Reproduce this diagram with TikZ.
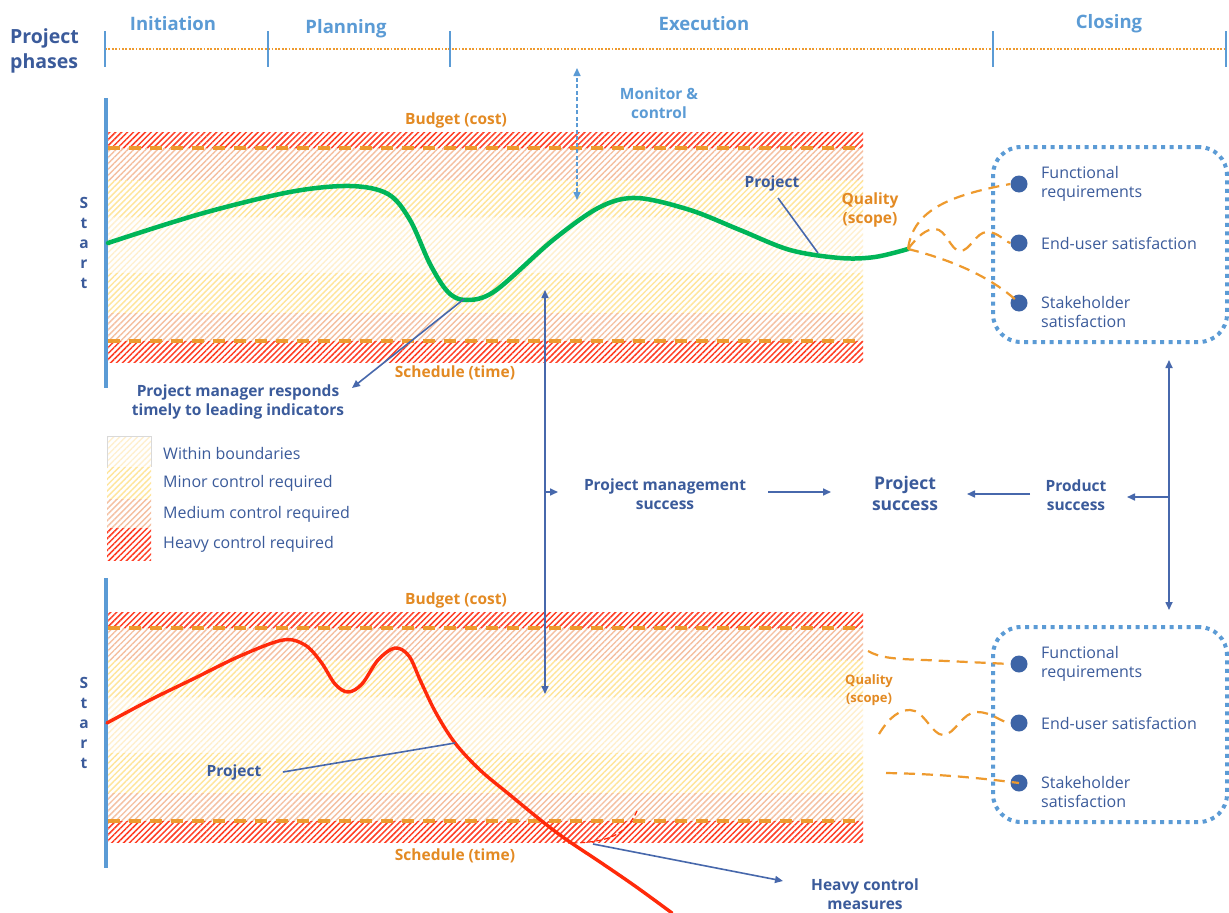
\documentclass[tikz,border=0pt]{standalone}
\usepackage{fontspec}
\setmainfont{Open Sans}
\usetikzlibrary{arrows.meta,patterns.meta}
\definecolor{navy}{HTML}{3B5B9B}
\definecolor{lblue}{HTML}{5B9BD5}
\definecolor{abl}{HTML}{4768AC}
\definecolor{orangeT}{HTML}{E38A23}
\definecolor{orangeL}{HTML}{EE9A2E}
\definecolor{hred}{HTML}{FF3D24}
\definecolor{hmed}{HTML}{F5BFA0}
\definecolor{hmin}{HTML}{FFE59A}
\definecolor{hwin}{HTML}{FFF0CF}
\definecolor{pgreen}{HTML}{00B558}
\definecolor{pred}{HTML}{FF2A0A}
\definecolor{dotblue}{HTML}{3D64A6}
\tikzset{
  txt/.style={text=navy, font=\fontsize{16}{19.5}\selectfont, align=left, inner sep=0pt},
  btxt/.style={text=navy, font=\bfseries\fontsize{15.5}{19}\selectfont, align=center, inner sep=0pt},
  otxt/.style={text=orangeT, font=\bfseries\fontsize{15.5}{19}\selectfont, align=center, inner sep=0pt},
  ltxt/.style={text=lblue, font=\bfseries\fontsize{15.5}{19}\selectfont, align=center, inner sep=0pt},
  phase/.style={text=lblue, font=\bfseries\fontsize{18.5}{22}\selectfont, inner sep=0pt},
  tick/.style={draw=lblue, line width=2pt},
  conn/.style={draw=abl, line width=1.6pt},
  tip/.style={-{Triangle[length=8pt,width=7pt]}},
  both/.style={{Triangle[length=8pt,width=7pt]}-{Triangle[length=8pt,width=7pt]}},
  zheavy/.style={pattern={Lines[angle=45,distance=4.2pt,line width=1.5pt]}, pattern color=hred},
  zmed/.style={pattern={Lines[angle=45,distance=4.2pt,line width=1.4pt]}, pattern color=hmed},
  zmin/.style={pattern={Lines[angle=45,distance=4.2pt,line width=1.4pt]}, pattern color=hmin},
  zwin/.style={pattern={Lines[angle=45,distance=4.2pt,line width=1.4pt]}, pattern color=hwin},
  limit/.style={draw=orangeL, line width=3.5pt, dash pattern=on 12pt off 9pt},
  qdash/.style={draw=orangeL, line width=2.2pt, dash pattern=on 11pt off 7pt},
  reqbox/.style={draw=lblue, line width=4pt, dash pattern=on 4pt off 4.5pt, rounded corners=28pt},
  reqdot/.style={circle, fill=dotblue, minimum size=17pt, inner sep=0pt},
  axis/.style={draw=lblue, line width=4pt},
}
\newcommand\controlband{%
  \path[zheavy] (108,132) rectangle (863,148);
  \path[zmed]   (108,148) rectangle (863,180);
  \path[zmin]   (108,180) rectangle (863,217);
  \path[zwin]   (108,217) rectangle (863,273);
  \path[zmin]   (108,273) rectangle (863,313);
  \path[zmed]   (108,313) rectangle (863,341);
  \path[zheavy] (108,341) rectangle (863,362);
  \draw[limit] (108,148) -- (863,148);
  \draw[limit] (108,341) -- (863,341);
  \draw[axis] (106,98) -- (106,388);
}
\begin{document}
\begin{tikzpicture}[x=1pt,y=-1pt]
\useasboundingbox[fill=white] (0,0) rectangle (1229,913);

% ---- phase header ----
\node[text=navy, font=\bfseries\fontsize{19.5}{25}\selectfont, align=left, inner sep=0pt, anchor=west] (phases) at (10,51) {Project\\phases};
\draw[orangeL, line width=1.8pt, dash pattern=on 1.8pt off 1.6pt] (105,49) -- (1226,49);
\foreach \x in {105,268,450,993,1226} \draw[tick] (\x,31) -- (\x,67);
\node[phase] (phI) at (173,24) {Initiation};
\node[phase] (phP) at (346,29) {Planning};
\node[phase] (phE) at (704,24) {Execution};
\node[phase] (phC) at (1109,24) {Closing};

% ---- both control bands ----
\controlband
\begin{scope}[yshift=-480pt]
\controlband
\end{scope}

% ---- upper band: controlled project ----
\node[btxt, font=\bfseries\fontsize{15.5}{20}\selectfont] (startA) at (84,243) {S\\t\\a\\r\\t};
\node[otxt] (budA) at (456,120) {Budget (cost)};
\node[otxt] (schA) at (455,373) {Schedule (time)};
\draw[pgreen, line width=4.5pt, line cap=round] plot[smooth, tension=0.55] coordinates {
  (108,243) (200,214) (290,192) (350,186) (388,194) (410,220) (430,264) (448,292) (466,300)
  (495,291) (553,240) (600,207) (637,198) (690,210) (740,230) (790,250) (840,258) (875,257) (908,249)};
\coordinate (gEnd) at (908,249);
\coordinate (gMin) at (464,299);
\coordinate (gTail) at (818,253);
\node[btxt] (projA) at (772,183) {Project};
\coordinate (projAfoot) at (778,198);
\draw[conn] (projAfoot) -- (gTail);
\node[btxt] (pmResp) at (238,402) {Project manager responds\\timely to leading indicators};
\coordinate (pmTip) at (352,388);
\draw[conn, tip] (gMin) -- (pmTip);

% monitor & control
\coordinate (monTop) at (577,68);
\coordinate (monBot) at (577,200);
\draw[draw=lblue, line width=1.6pt, dash pattern=on 4pt off 2.5pt, both] (monBot) -- (monTop);
\node[ltxt] (mon) at (659,103) {Monitor \&\\control};

% quality links, upper
\node[otxt] (qualA) at (870,210) {Quality\\(scope)};
\node[reqbox, minimum width=234pt, minimum height=195pt] (boxA) at (1110,244.5) {};
\node[reqdot] (frA) at (1019,184) {};
\node[reqdot] (euA) at (1019,243) {};
\node[reqdot] (shA) at (1019,303) {};
\node[txt, anchor=west] (frAt) at (1041,184) {Functional\\requirements};
\node[txt, anchor=west] (euAt) at (1041,243) {End-user satisfaction};
\node[txt, anchor=west] (shAt) at (1041,312) {Stakeholder\\satisfaction};
\draw[qdash] (gEnd) .. controls (913,212) and (945,196) .. (frA.west);
\draw[qdash] (gEnd) .. controls (918,236) and (926,229) .. (935,229)
  .. controls (946,229) and (951,251) .. (960,251)
  .. controls (970,251) and (976,232) .. (987,232)
  .. controls (998,232) and (1004,241) .. (euA.west);
\draw[qdash] (gEnd) .. controls (945,258) and (990,275) .. (shA.center);

% ---- legend ----
\path[zwin]   (107,436) rectangle (151,467);
\path[zmin]   (107,467) rectangle (151,499);
\path[zmed]   (107,499) rectangle (151,528);
\path[zheavy] (107,528) rectangle (151,560);
\draw[black!15, line width=0.6pt] (107,467) -- (107,436) -- (151,436) -- (151,467);
\node[txt, anchor=west] (lg1) at (163,453) {Within boundaries};
\node[txt, anchor=west] (lg2) at (163,483) {Minor control required};
\node[txt, anchor=west] (lg3) at (163,514) {Medium control required};
\node[txt, anchor=west] (lg4) at (163,544) {Heavy control required};

% ---- success chain ----
\coordinate (vTop) at (545,290);
\coordinate (vBot) at (545,694);
\coordinate (vMid) at (545,492);
\draw[conn, both] (vBot) -- (vTop);
\node[btxt] (pms) at (665,494) {Project management\\success};
\node[btxt, font=\bfseries\fontsize{17.5}{21}\selectfont] (ps) at (905,493) {Project\\success};
\node[btxt] (prs) at (1076,495) {Product\\success};
\coordinate (pmsIn) at (558,492);
\draw[conn, tip] (vMid) -- (pmsIn);
\coordinate (a1s) at (768,492);
\coordinate (a1e) at (831,492);
\draw[conn, tip] (a1s) -- (a1e);
\coordinate (a2s) at (1030,494);
\coordinate (a2e) at (967,494);
\draw[conn, tip] (a2s) -- (a2e);
\coordinate (rTop) at (1169,360);
\coordinate (rBot) at (1169,610);
\coordinate (rMid) at (1169,497);
\coordinate (prsIn) at (1127,497);
\draw[conn, both] (rBot) -- (rTop);
\draw[conn, tip] (rMid) -- (prsIn);

% ---- lower band: uncontrolled project ----
\node[btxt, font=\bfseries\fontsize{15.5}{20}\selectfont] (startB) at (84,723) {S\\t\\a\\r\\t};
\node[otxt] (budB) at (456,600) {Budget (cost)};
\node[otxt] (schB) at (455,856) {Schedule (time)};
\draw[pred, line width=3.4pt, line cap=round] plot[smooth, tension=0.55] coordinates {
  (107,723) (150,700) (193,679) (240,656) (283,640) (305,645) (321,662) (335,684) (348,692)
  (362,684) (378,660) (395,648) (409,656) (421,682) (436,713) (455,743) (480,770) (510,795)
  (543,822) (567,840) (600,862) (635,886) (672,913)};
\coordinate (rTail) at (455,743);
\node[btxt] (projB) at (234,772) {Project};
\coordinate (projBfoot) at (283,772);
\draw[conn] (projBfoot) -- (rTail);
\coordinate (hcStart) at (637,811);
\coordinate (hcEnd) at (568,843);
\draw[pred, line width=1.2pt, dash pattern=on 5pt off 3pt] (hcStart) .. controls (626,834) and (610,843) .. (hcEnd);
\coordinate (hcFrom) at (593,844);
\coordinate (hcTip) at (783,881);
\draw[conn, tip] (hcFrom) -- (hcTip);
\node[btxt] (hcm) at (865,894) {Heavy control\\measures};

% quality links, lower
\node[otxt, font=\bfseries\fontsize{13}{18}\selectfont] (qualB) at (869,690) {Quality\\(scope)};
\node[reqbox, minimum width=234pt, minimum height=195pt] (boxB) at (1110,724.5) {};
\node[reqdot] (frB) at (1019,664) {};
\node[reqdot] (euB) at (1019,723) {};
\node[reqdot] (shB) at (1019,783) {};
\node[txt, anchor=west] (frBt) at (1041,664) {Functional\\requirements};
\node[txt, anchor=west] (euBt) at (1041,723) {End-user satisfaction};
\node[txt, anchor=west] (shBt) at (1041,792) {Stakeholder\\satisfaction};
\coordinate (qB1) at (868,651);
\coordinate (qB2) at (879,734);
\coordinate (qB3) at (886,773);
\draw[qdash] (qB1) .. controls (880,658) and (895,659) .. (925,660) -- (frB.west);
\draw[qdash] (qB2) .. controls (890,716) and (900,710) .. (910,710)
  .. controls (924,710) and (932,735) .. (943,735)
  .. controls (955,735) and (962,712) .. (977,712)
  .. controls (992,712) and (1000,722) .. (euB.west);
\draw[qdash] (qB3) .. controls (940,774) and (980,778) .. (shB.center);
\end{tikzpicture}
\end{document}
